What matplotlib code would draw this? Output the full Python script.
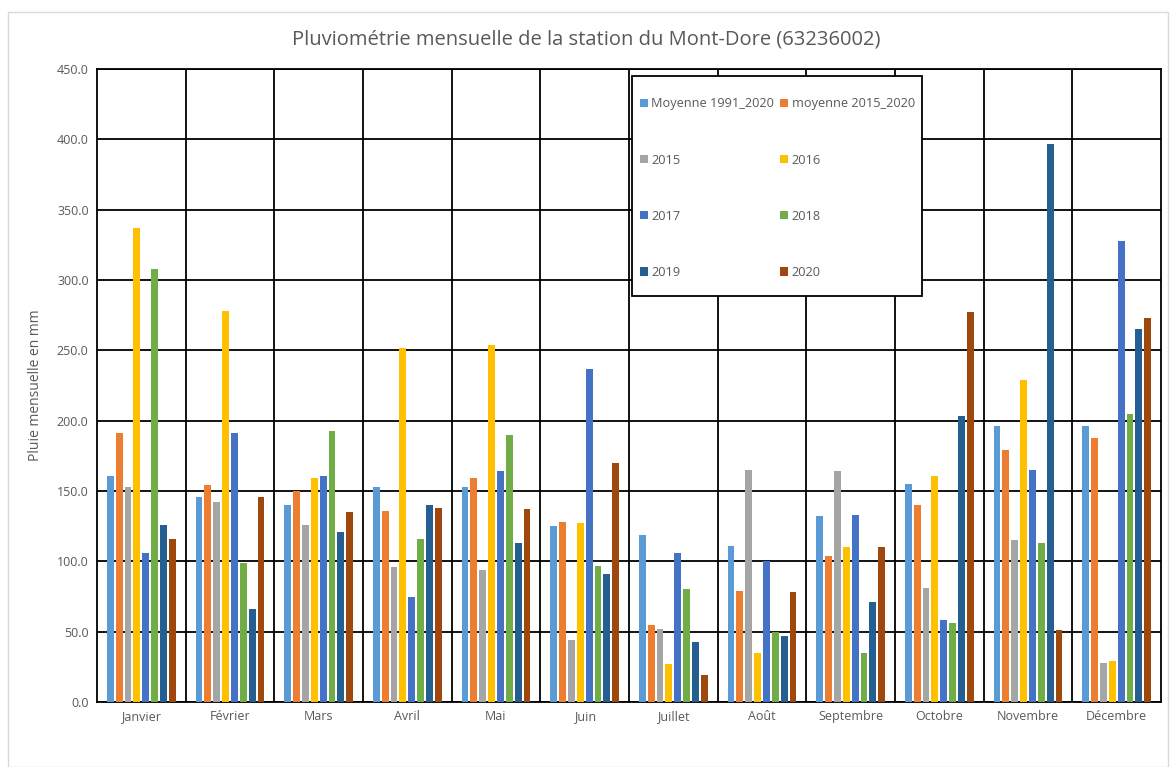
import numpy as np
from matplotlib import pyplot as plt
from matplotlib.patches import Rectangle

mois = ["Janvier", "Février", "Mars", "Avril", "Mai", "Juin", "Juillet", "Août",
        "Septembre", "Octobre", "Novembre", "Décembre"]

moy_1991_2020 = [161, 146, 140, 153, 153, 125, 119, 111, 132, 155, 196, 196]
moy_2015_2020 = [191, 154, 150, 136, 159, 128, 55, 79, 104, 140, 179, 188]
p2015 = [153, 142, 126, 96, 94, 44, 52, 165, 164, 81, 115, 28]
p2016 = [337, 278, 159, 252, 254, 127, 27, 35, 110, 161, 229, 29]
p2017 = [106, 191, 161, 75, 164, 237, 106, 100, 133, 58, 165, 328]
p2018 = [308, 99, 193, 116, 190, 97, 80, 50, 35, 56, 113, 205]
p2019 = [126, 66, 121, 140, 113, 91, 43, 47, 71, 203, 397, 265]
p2020 = [116, 146, 135, 138, 137, 170, 19, 78, 110, 277, 51, 273]

series = [moy_1991_2020, moy_2015_2020, p2015, p2016, p2017, p2018, p2019, p2020]
noms = ["Moyenne 1991_2020", "moyenne 2015_2020", "2015", "2016", "2017", "2018", "2019", "2020"]
couleurs = ["#5B9BD5", "#ED7D31", "#A5A5A5", "#FFC000", "#4472C4", "#70AD47", "#255E91", "#9E480E"]

plt.rcParams['font.family'] = ['Open Sans', 'DejaVu Sans']
gris = "#595959"

fig = plt.figure(figsize=(11.72, 7.67), dpi=100)
# cadre de la zone graphique
fig.patches.append(Rectangle((8 / 1172, 0), 1160 / 1172, 1 - 12 / 767, transform=fig.transFigure,
                             fill=False, edgecolor="#D9D9D9", linewidth=1))
ax = fig.add_axes([97 / 1172, 1 - 702 / 767, 1064 / 1172, 633 / 767])

x = np.arange(len(mois))
pas = 0.1
barres = []
for i in range(len(series)):
    b = ax.bar(x + (i - 3.5) * pas, series[i], width=0.078, color=couleurs[i], label=noms[i], zorder=3)
    barres.append(b)

ax.set_xlim(-0.5, len(mois) - 0.5)
ax.set_ylim(0, 450)
ax.set_yticks(np.arange(0, 451, 50))
ax.set_yticklabels(["%.1f" % v for v in np.arange(0, 451, 50)], color=gris, fontsize=9)
ax.set_xticks(x)
ax.set_xticklabels(mois, color=gris, fontsize=9)
ax.tick_params(length=0, pad=6)
ax.yaxis.grid(True, color="black", linewidth=1.3, zorder=0)
for b in np.arange(0.5, len(mois) - 1, 1):
    ax.axvline(b, color="black", linewidth=1.3, zorder=0)
for s in ax.spines.values():
    s.set_color("black")
    s.set_linewidth(1.3)

ax.set_ylabel("Pluie mensuelle en mm", color=gris, fontsize=10, labelpad=10)
fig.text(0.5, 1 - 40 / 767, "Pluviométrie mensuelle de la station du Mont-Dore (63236002)",
         ha="center", va="center", color=gris, fontsize=14.5)

# cadre de la légende
ax.add_patch(Rectangle((0.5028, 0.6414), 0.2726, 0.3476, transform=ax.transAxes,
                       facecolor="white", edgecolor="black", linewidth=1.3, zorder=4))
# ordre ligne par ligne
ordre = [0, 2, 4, 6, 1, 3, 5, 7]
leg = ax.legend([barres[i] for i in ordre], [noms[i] for i in ordre], ncol=2, loc="upper left",
                bbox_to_anchor=(0.5103, 0.955), borderaxespad=0, borderpad=0, frameon=False,
                fontsize=9.2, labelspacing=3.38, handlelength=0.6, handleheight=0.6,
                handletextpad=0.3, columnspacing=0.45, labelcolor=gris)
leg.set_zorder(5)

plt.savefig("out.png", dpi=100)
